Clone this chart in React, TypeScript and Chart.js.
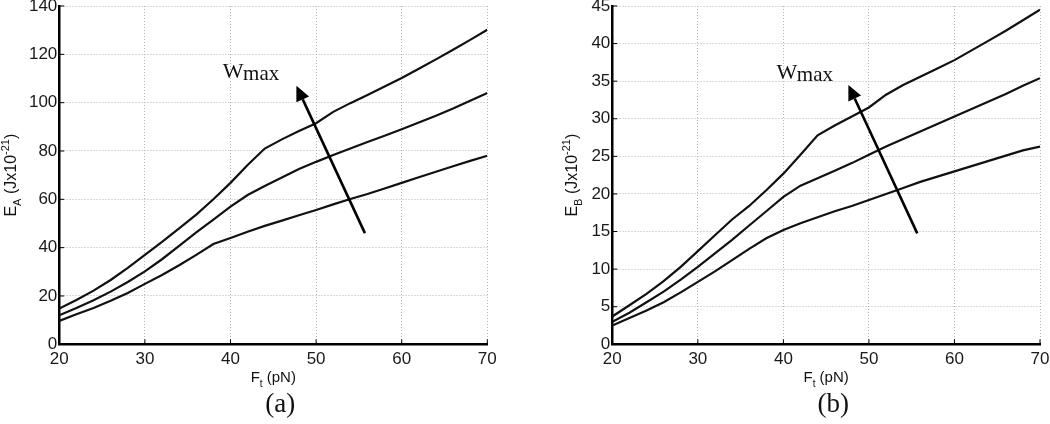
import React, { useEffect, useRef } from 'react';
import { Chart, registerables } from 'chart.js';
Chart.register(...registerables);

const FT = [20, 22, 24, 26, 28, 30, 32, 34, 36, 38, 40, 42, 44, 46, 48, 50, 52, 54, 56, 58, 60, 62, 64, 66, 68, 70];

const EA_LOW = [9.7, 12.4, 15, 18, 21.2, 25, 28.7, 32.7, 37, 41.5, 44, 46.6, 49, 51.2, 53.4, 55.6, 57.9, 60.1, 62.2, 64.5, 66.8, 69.1, 71.4, 73.7, 75.9, 78];
const EA_MID = [12, 15, 18.2, 21.8, 25.8, 30.2, 35.2, 40.7, 46.3, 51.6, 57, 61.8, 65.5, 69, 72.5, 75.5, 78.3, 81, 83.7, 86.3, 89, 91.8, 94.6, 97.6, 100.8, 104];
const EA_HIGH = [14.8, 18.3, 22.2, 26.6, 31.6, 37, 42.4, 48, 53.7, 60, 66.8, 74.2, 81, 84.8, 88.3, 91.5, 96.2, 99.8, 103.2, 106.7, 110.2, 114, 117.9, 121.9, 126, 130.2];

const EB_LOW = [2.5, 3.5, 4.5, 5.6, 6.9, 8.3, 9.7, 11.2, 12.7, 14.1, 15.2, 16.1, 16.9, 17.7, 18.4, 19.2, 20, 20.8, 21.6, 22.3, 23, 23.7, 24.4, 25.1, 25.8, 26.3];
const EB_MID = [3.0, 4.2, 5.6, 7.0, 8.6, 10.3, 12.1, 13.9, 15.8, 17.7, 19.6, 21.1, 22.1, 23.1, 24.1, 25.2, 26.3, 27.3, 28.3, 29.3, 30.3, 31.3, 32.3, 33.3, 34.4, 35.4];
const EB_HIGH = [3.7, 5.2, 6.7, 8.4, 10.3, 12.4, 14.5, 16.6, 18.4, 20.5, 22.7, 25.2, 27.8, 29.1, 30.3, 31.5, 33.2, 34.5, 35.6, 36.7, 37.8, 39.1, 40.4, 41.7, 43.1, 44.5];

const X_TICKS = [20, 30, 40, 50, 60, 70];
const EA_TICKS = [0, 20, 40, 60, 80, 100, 120, 140];
const EB_TICKS = [0, 5, 10, 15, 20, 25, 30, 35, 40, 45];

// arrow: [x tail, x tip], [y tail, y tip] in data units
const ARROW_A_X = [55.7, 47.7];
const ARROW_A_Y = [46, 107];
const ARROW_B_X = [55.65, 47.6];
const ARROW_B_Y = [14.76, 34.5];
const LABEL_A = [39.1, 110.3];
const LABEL_B = [39.2, 35.3];
const LABEL_MAIN = 'W';
const LABEL_SUB = 'max';

type Part = { t: string; m: 'n' | 'sub' | 'sup' };

function drawRich(ctx: CanvasRenderingContext2D, parts: Part[], cx: number, cy: number, rotate: boolean, size: number) {
  const small = Math.round(size * 0.68);
  const fontOf = (p: Part) => `${p.m === 'n' ? size : small}px "Liberation Sans", Arial, sans-serif`;
  const widths = parts.map((p) => {
    ctx.font = fontOf(p);
    return ctx.measureText(p.t).width;
  });
  const total = widths.reduce((a, b) => a + b, 0);
  ctx.save();
  ctx.translate(cx, cy);
  if (rotate) ctx.rotate(-Math.PI / 2);
  ctx.textBaseline = 'alphabetic';
  ctx.textAlign = 'left';
  ctx.fillStyle = '#111';
  let xx = -total / 2;
  parts.forEach((p, i) => {
    ctx.font = fontOf(p);
    const dy = p.m === 'sub' ? size * 0.32 : p.m === 'sup' ? -size * 0.45 : 0;
    ctx.fillText(p.t, xx, dy);
    xx += widths[i];
  });
  ctx.restore();
}

type PanelProps = {
  left: number;
  width: number;
  chartLeft: number;
  chartRight: number;
  yTicks: number[];
  series: number[][];
  letter: string;
  caption: string;
  titleGap: number;
  arrowX: number[];
  arrowY: number[];
  label: number[];
};

const CANVAS_TOP = -20;
const CANVAS_H = 444;
const PLOT_TOP = 26;
const PLOT_BOTTOM = 364.3;

function Panel(props: PanelProps) {
  const ref = useRef<HTMLCanvasElement | null>(null);
  useEffect(() => {
    const canvas = ref.current;
    if (!canvas) return;
    const p = props;
    const overlay = {
      id: 'overlay' + p.letter,
      afterDraw(chart: any) {
        const { ctx, chartArea: ca, scales } = chart;
        const xs = scales.x;
        const ys = scales.y;
        ctx.save();
        // inward ticks
        ctx.strokeStyle = '#000';
        ctx.lineWidth = 1;
        xs.ticks.forEach((t: any) => {
          const px = xs.getPixelForValue(t.value);
          ctx.beginPath();
          ctx.moveTo(px, ca.bottom);
          ctx.lineTo(px, ca.bottom - 5);
          ctx.stroke();
        });
        ys.ticks.forEach((t: any) => {
          const py = ys.getPixelForValue(t.value);
          ctx.beginPath();
          ctx.moveTo(ca.left, py);
          ctx.lineTo(ca.left + 5, py);
          ctx.stroke();
        });
        // arrow
        const x0 = xs.getPixelForValue(p.arrowX[0]);
        const y0 = ys.getPixelForValue(p.arrowY[0]);
        const x1 = xs.getPixelForValue(p.arrowX[1]);
        const y1 = ys.getPixelForValue(p.arrowY[1]);
        const ang = Math.atan2(y1 - y0, x1 - x0);
        const hl = 15;
        const hw = 7;
        const bx = x1 - hl * Math.cos(ang);
        const by = y1 - hl * Math.sin(ang);
        ctx.strokeStyle = '#000';
        ctx.lineWidth = 2.6;
        ctx.beginPath();
        ctx.moveTo(x0, y0);
        ctx.lineTo(bx, by);
        ctx.stroke();
        ctx.fillStyle = '#000';
        ctx.beginPath();
        ctx.moveTo(x1, y1);
        ctx.lineTo(bx + hw * Math.sin(ang), by - hw * Math.cos(ang));
        ctx.lineTo(bx - hw * Math.sin(ang), by + hw * Math.cos(ang));
        ctx.closePath();
        ctx.fill();
        // Wmax label
        ctx.font = '22px "Liberation Serif", "Times New Roman", serif';
        ctx.textAlign = 'left';
        ctx.textBaseline = 'alphabetic';
        ctx.fillStyle = '#111';
        const lx = xs.getPixelForValue(p.label[0]);
        const ly = ys.getPixelForValue(p.label[1]);
        ctx.fillText(LABEL_MAIN, lx, ly);
        const ww = ctx.measureText(LABEL_MAIN).width;
        ctx.font = '21px "Liberation Serif", "Times New Roman", serif';
        ctx.fillText(LABEL_SUB, lx + ww - 0.5, ly + 2.5);
        // y title
        const cyMid = (ca.top + ca.bottom) / 2;
        drawRich(
          ctx,
          [
            { t: 'E', m: 'n' },
            { t: p.letter, m: 'sub' },
            { t: ' (Jx10', m: 'n' },
            { t: '-21', m: 'sup' },
            { t: ')', m: 'n' },
          ],
          ca.left - p.titleGap,
          cyMid,
          true,
          16
        );
        // x title
        const cxMid = (ca.left + ca.right) / 2;
        drawRich(
          ctx,
          [
            { t: 'F', m: 'n' },
            { t: 't', m: 'sub' },
            { t: ' (pN)', m: 'n' },
          ],
          cxMid,
          ca.bottom + 38,
          false,
          15
        );
        // caption
        ctx.font = '27px "Liberation Serif", "Times New Roman", serif';
        ctx.textAlign = 'center';
        ctx.textBaseline = 'alphabetic';
        ctx.fillStyle = '#111';
        ctx.fillText(p.caption, cxMid + 7, ca.bottom + 68);
        ctx.restore();
      },
    };

    const mk = (d: number[]) => ({
      data: FT.map((x, i) => ({ x, y: d[i] })),
      borderColor: '#111',
      borderWidth: 2.2,
      pointRadius: 0,
      tension: 0,
      fill: false,
    });

    const chart = new Chart(canvas, {
      type: 'line',
      data: { datasets: p.series.map(mk) as any },
      options: {
        animation: false,
        responsive: false,
        devicePixelRatio: 1,
        layout: { padding: { top: PLOT_TOP, right: p.width - p.chartRight, bottom: 0, left: 0 } },
        plugins: { legend: { display: false }, tooltip: { enabled: false } },
        scales: {
          x: {
            type: 'linear',
            min: X_TICKS[0],
            max: X_TICKS[X_TICKS.length - 1],
            afterBuildTicks: (s: any) => {
              s.ticks = X_TICKS.map((v) => ({ value: v }));
            },
            afterFit: (s: any) => {
              s.height = CANVAS_H - PLOT_BOTTOM;
            },
            grid: { color: '#b4b4b4', lineWidth: 1, drawTicks: false },
            border: { display: true, color: '#000', width: 2.5, dash: [1, 2] },
            ticks: {
              padding: 5,
              color: '#1a1a1a',
              font: { family: '"Liberation Sans", Arial, sans-serif', size: 17 },
              maxRotation: 0,
              autoSkip: false,
            },
          },
          y: {
            type: 'linear',
            min: p.yTicks[0],
            max: p.yTicks[p.yTicks.length - 1],
            afterBuildTicks: (s: any) => {
              s.ticks = p.yTicks.map((v) => ({ value: v }));
            },
            afterFit: (s: any) => {
              s.width = p.chartLeft;
            },
            grid: { color: '#b4b4b4', lineWidth: 1, drawTicks: false },
            border: { display: true, color: '#000', width: 2.5, dash: [1, 2] },
            ticks: {
              padding: 2,
              color: '#1a1a1a',
              font: { family: '"Liberation Sans", Arial, sans-serif', size: 17 },
              autoSkip: false,
            },
          },
        },
      },
      plugins: [overlay],
    } as any);
    return () => chart.destroy();
  }, []);
  return (
    <canvas
      ref={ref}
      width={props.width}
      height={CANVAS_H}
      style={{ position: 'absolute', left: props.left, top: CANVAS_TOP, width: props.width, height: CANVAS_H }}
    />
  );
}

export default function App() {
  return (
    <div style={{ position: 'fixed', left: 0, top: 0, width: 1050, height: 424, overflow: 'hidden', background: '#fff' }}>
      <Panel
        left={0}
        width={525}
        chartLeft={59.3}
        chartRight={487.3}
        yTicks={EA_TICKS}
        series={[EA_LOW, EA_MID, EA_HIGH]}
        letter="A"
        caption="(a)"
        titleGap={43}
        arrowX={ARROW_A_X}
        arrowY={ARROW_A_Y}
        label={LABEL_A}
      />
      <Panel
        left={525}
        width={560}
        chartLeft={87.3}
        chartRight={515}
        yTicks={EB_TICKS}
        series={[EB_LOW, EB_MID, EB_HIGH]}
        letter="B"
        caption="(b)"
        titleGap={35}
        arrowX={ARROW_B_X}
        arrowY={ARROW_B_Y}
        label={LABEL_B}
      />
    </div>
  );
}
